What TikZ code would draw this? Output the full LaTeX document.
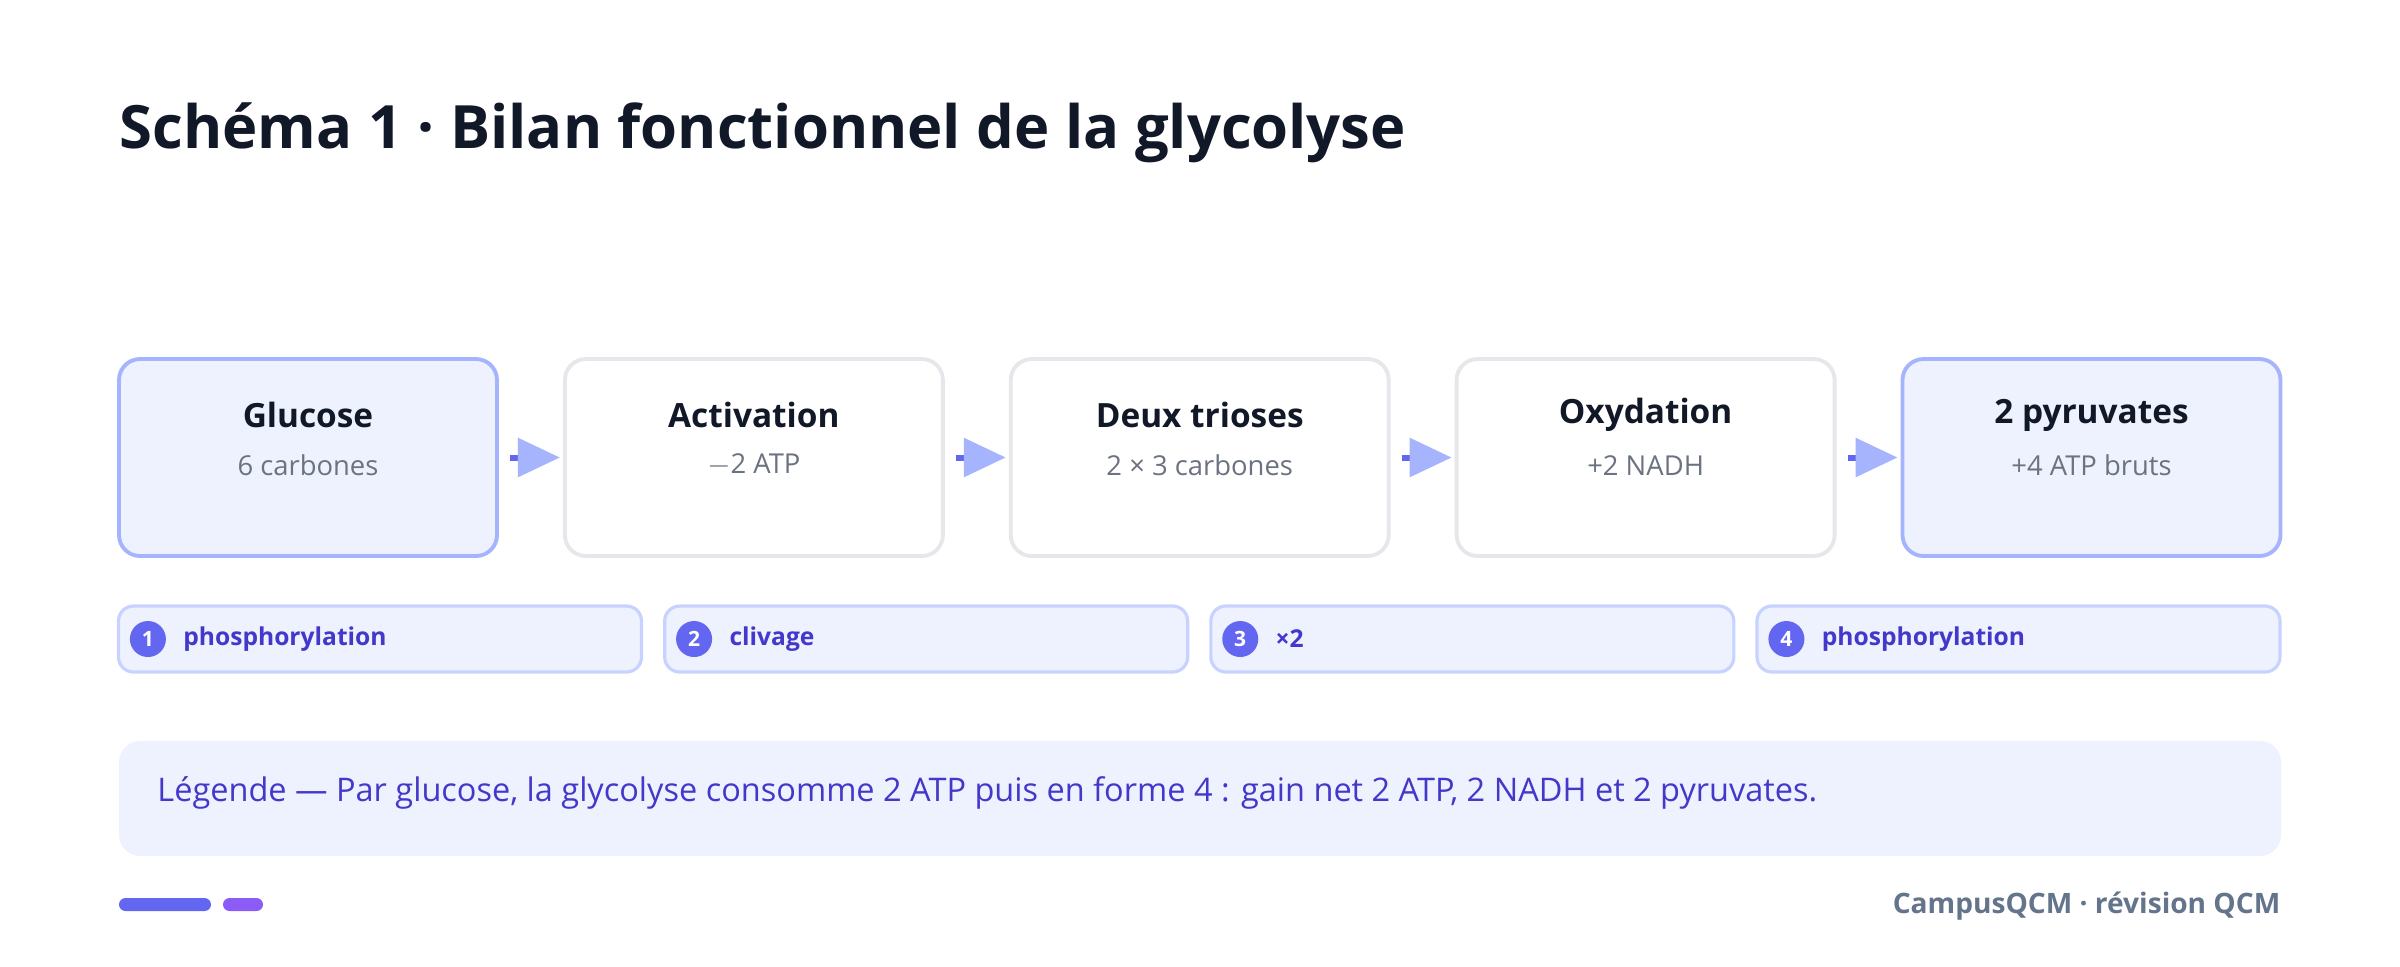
\documentclass[tikz,border=0pt]{standalone}
\usepackage{fontspec}
\setmainfont{Open Sans}
\usetikzlibrary{positioning,arrows.meta}

\definecolor{ink}{HTML}{111827}
\definecolor{subgray}{HTML}{6B7280}
\definecolor{boxline}{HTML}{E5E7EB}
\definecolor{hiline}{HTML}{A5B4FC}
\definecolor{hifill}{HTML}{EEF2FF}
\definecolor{indigo}{HTML}{6366F1}
\definecolor{tagline}{HTML}{C7D2FE}
\definecolor{tagtext}{HTML}{4338CA}
\definecolor{violet}{HTML}{8B5CF6}
\definecolor{footgray}{HTML}{64748B}

\tikzset{
  stepbox/.style={draw=boxline, fill=white, rounded corners=0.21cm, line width=1.1pt,
    minimum width=3.78cm, minimum height=1.97cm},
  hibox/.style={stepbox, draw=hiline, fill=hifill},
  boxtitle/.style={font=\bfseries\fontsize{9.5}{11}\selectfont, text=ink},
  boxsub/.style={font=\fontsize{7.8}{10}\selectfont, text=subgray},
  flow/.style={indigo, line width=1.7pt, shorten >=0.3mm,
    -{Triangle[length=0.42cm,width=0.38cm,color=hiline]}},
  tagbox/.style={draw=tagline, fill=hifill, rounded corners=0.15cm, line width=0.9pt,
    minimum width=5.23cm, minimum height=0.66cm},
  badge/.style={circle, fill=indigo, text=white, inner sep=0pt, minimum size=0.36cm,
    font=\bfseries\fontsize{6}{7}\selectfont},
  tagtxt/.style={anchor=west, text=tagtext, font=\bfseries\fontsize{7}{9}\selectfont}
}

\begin{document}
\begin{tikzpicture}
\useasboundingbox (0,0) rectangle (24,-9.66);

% title
\node[anchor=base west, inner sep=0pt, text=ink, font=\bfseries\fontsize{17}{20}\selectfont] (title) at (1.19,-1.48)
  {Schéma 1 · Bilan fonctionnel de la glycolyse};

% the five steps
\node[hibox] (glucose) at (3.08,-4.575) {};
\node[stepbox, right=0.64cm of glucose] (activ) {};
\node[stepbox, right=0.64cm of activ] (trioses) {};
\node[stepbox, right=0.64cm of trioses] (oxyd) {};
\node[hibox, right=0.64cm of oxyd] (pyruv) {};

\foreach \b/\t/\s in {glucose/Glucose/6 carbones, activ/Activation/$-$2 ATP,
    trioses/Deux trioses/2 × 3 carbones, oxyd/Oxydation/+2 NADH, pyruv/2 pyruvates/+4 ATP bruts}{
  \node[boxtitle] (\b-t) at ([yshift=-0.58cm]\b.north) {\t};
  \node[boxsub] (\b-s) at ([yshift=-1.08cm]\b.north) {\s};
}

% arrows
\draw[flow] ([xshift=0.11cm]glucose.east) -- (activ.west);
\draw[flow] ([xshift=0.11cm]activ.east) -- (trioses.west);
\draw[flow] ([xshift=0.11cm]trioses.east) -- (oxyd.west);
\draw[flow] ([xshift=0.11cm]oxyd.east) -- (pyruv.west);

% numbered tags
\node[tagbox] (tag1) at (3.80,-6.39) {};
\node[tagbox, right=0.20cm of tag1] (tag2) {};
\node[tagbox, right=0.20cm of tag2] (tag3) {};
\node[tagbox, right=0.20cm of tag3] (tag4) {};

\foreach \n/\t in {1/phosphorylation, 2/clivage, 3/×2, 4/phosphorylation}{
  \node[badge] (badge\n) at ([xshift=0.31cm]tag\n.west) {\n};
  \node[tagtxt] (tagtxt\n) at ([xshift=0.54cm]tag\n.west) {\t};
}

% legend
\node[fill=hifill, rounded corners=0.21cm, minimum width=21.62cm, minimum height=1.15cm] (legend) at (12,-7.985) {};
\node[anchor=west, text=tagtext, font=\fontsize{9.25}{11}\selectfont] (legendtxt) at (1.45,-7.93)
  {Légende — Par glucose, la glycolyse consomme 2 ATP puis en forme 4 : gain net 2 ATP, 2 NADH et 2 pyruvates.};

% footer
\fill[indigo, rounded corners=0.065cm] (1.19,-8.98) rectangle (2.11,-9.11);
\fill[violet, rounded corners=0.065cm] (2.23,-8.98) rectangle (2.63,-9.11);
\node[anchor=east, inner sep=0pt, text=footgray, font=\bfseries\fontsize{8}{10}\selectfont] (foot) at (22.81,-9.06)
  {CampusQCM · révision QCM};
\end{tikzpicture}
\end{document}
